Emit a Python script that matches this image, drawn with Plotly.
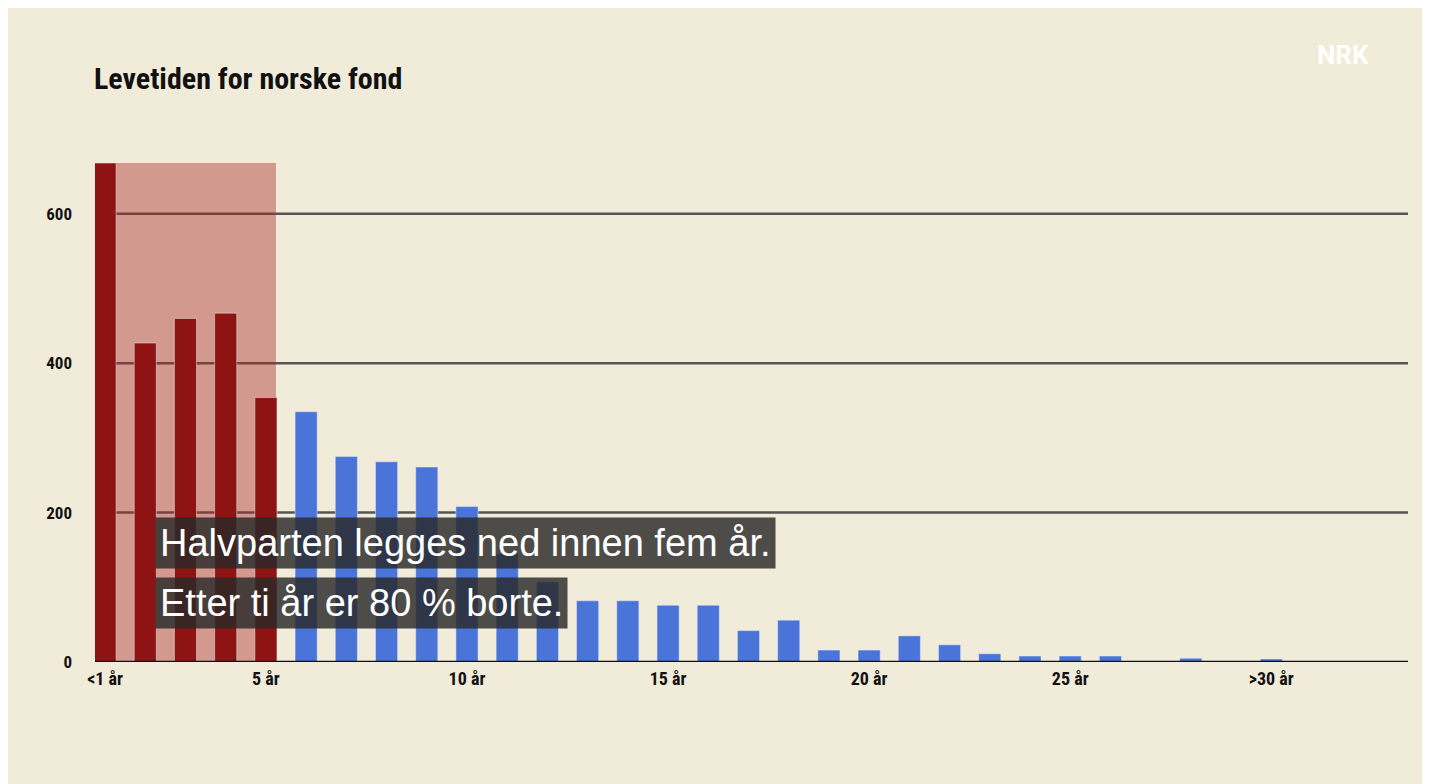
import plotly.graph_objects as go

# Levetid i år (1 = "<1 år", 30 = ">30 år")
years = list(range(1, 32))
counts = [668, 427, 460, 467, 354, 335, 275, 268, 261, 208,
          145, 107, 82, 82, 76, 76, 42, 56, 16, 16,
          35, 23, 11, 8, 8, 8, 0, 5, 0, 4, 0]
tick_vals = [1, 5, 10, 15, 20, 25, 30]
tick_text = ["<1 år", "5 år", "10 år", "15 år", "20 år", "25 år", ">30 år"]
grid_vals = [200, 400, 600]

colors = ["#8e1414" if y <= 5 else "#4a74d8" for y in years]

fig = go.Figure(go.Bar(x=years, y=counts, marker_color=colors, width=0.55))

# highlighted first five years
fig.add_shape(type="rect", xref="x", yref="y", x0=0.75, x1=5.25, y0=0, y1=668,
              fillcolor="rgba(170,40,40,0.42)", line_width=0, layer="below")
for g in grid_vals:
    fig.add_shape(type="line", xref="paper", yref="y", x0=0.015, x1=1, y0=g, y1=g,
                  line=dict(color="#555", width=2.5), layer="below")
fig.add_shape(type="line", xref="paper", yref="y", x0=0, x1=1, y0=0, y1=0,
              line=dict(color="#111", width=2.5))

# page has an 8px body margin, so shift everything up/left by 8px
fig.update_layout(
    width=1422, height=776,
    paper_bgcolor="#f1ebd9", plot_bgcolor="#f1ebd9",
    margin=dict(l=87, r=22, t=155, b=122),
    showlegend=False,
    font=dict(family="Roboto", color="#111"),
    xaxis=dict(range=[0.75, 33.4], tickvals=tick_vals,
               ticktext=[f"<b>{t}</b>" for t in tick_text],
               showgrid=False, zeroline=False,
               tickfont=dict(size=18, family="Roboto Condensed, Roboto"),
               ticks="", ticklabelstandoff=4),
    yaxis=dict(range=[0, 668], tickvals=[0] + grid_vals,
               ticktext=["<b>0</b>"] + [f"<b>{g}</b>" for g in grid_vals],
               showgrid=False, zeroline=False,
               tickfont=dict(size=17, family="Roboto Condensed, Roboto"),
               ticks="", ticklabelstandoff=22),
)

fig.add_annotation(text="<b>Levetiden for norske fond</b>", xref="paper", yref="paper",
                   x=-0.002, y=1.13, xanchor="left", yanchor="bottom", showarrow=False,
                   font=dict(size=30, color="#111", family="Roboto Condensed, Roboto"))
fig.add_annotation(text="<b>NRK</b>", xref="paper", yref="paper", x=0.972, y=1.25,
                   xanchor="right", showarrow=False,
                   font=dict(size=26, color="white"))
for txt, yy in [("Halvparten legges ned innen fem år.", 537),
                ("Etter ti år er 80 % borte.", 596)]:
    fig.add_annotation(text=txt, xref="paper", yref="paper",
                       x=(155 - 95) / 1305, y=(654 - yy) / 491, xanchor="left", yanchor="middle",
                       showarrow=False, bgcolor="rgba(40,40,40,0.82)", borderpad=4,
                       font=dict(size=38, color="white", family="Liberation Sans"))

fig.write_html("out.html")
